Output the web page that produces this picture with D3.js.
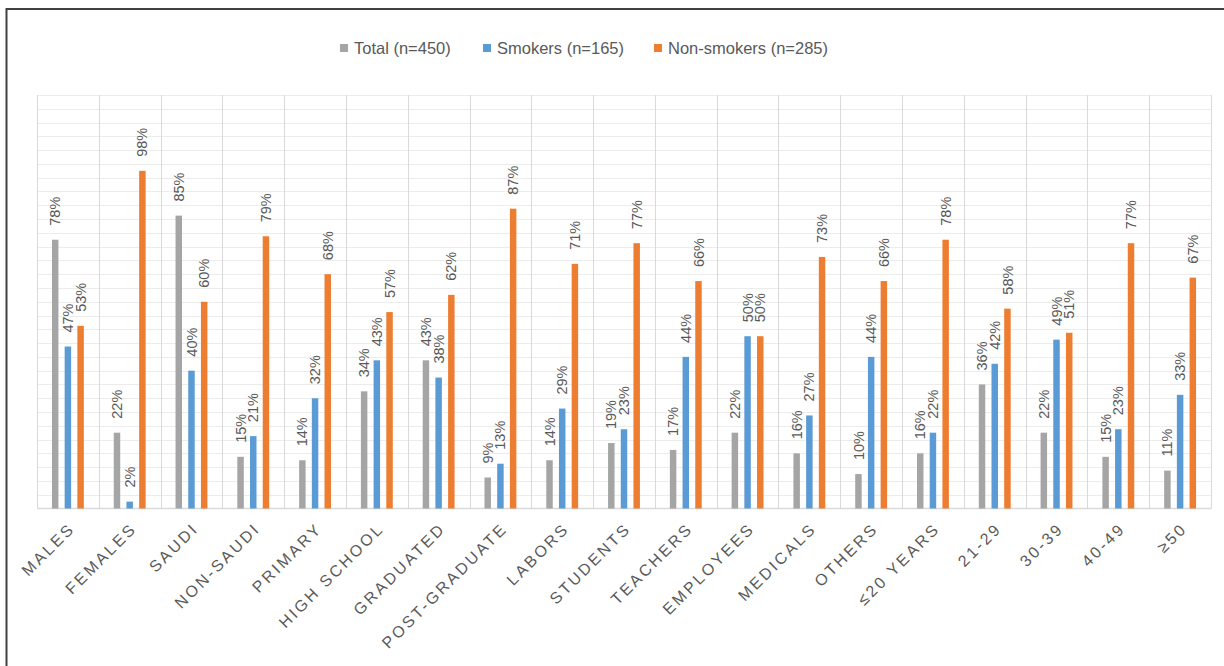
<!DOCTYPE html>
<html>
<head>
<meta charset="utf-8">
<script src="https://cdn.jsdelivr.net/npm/d3@7"></script>
<style>
  html, body { margin: 0; padding: 0; background: #fff; }
  svg { display: block; }
  text { font-family: "Liberation Sans", Arial, sans-serif; }
</style>
</head>
<body>
<svg id="chart" width="1224" height="666"></svg>
<script>
// Smoking status by demographic group (percent of each group)
const categories = ["MALES", "FEMALES", "SAUDI", "NON-SAUDI", "PRIMARY", "HIGH SCHOOL",
  "GRADUATED", "POST-GRADUATE", "LABORS", "STUDENTS", "TEACHERS", "EMPLOYEES",
  "MEDICALS", "OTHERS", "≤20 YEARS", "21-29", "30-39", "40-49", "≥50"];
const seriesNames = ["Total (n=450)", "Smokers (n=165)", "Non-smokers (n=285)"];
const totalValues     = [78, 22, 85, 15, 14, 34, 43,  9, 14, 19, 17, 22, 16, 10, 16, 36, 22, 15, 11];
const smokerValues    = [47,  2, 40, 21, 32, 43, 38, 13, 29, 23, 44, 50, 27, 44, 22, 42, 49, 23, 33];
const nonSmokerValues = [53, 98, 60, 79, 68, 57, 62, 87, 71, 77, 66, 50, 73, 66, 78, 58, 51, 77, 67];
const seriesColors = ["#a5a5a5", "#5b9bd5", "#ed7d31"];

const seriesValues = [totalValues, smokerValues, nonSmokerValues];
const rows = categories.map((c, i) => ({
  category: c,
  values: seriesNames.map((s, k) => ({ series: s, k, value: seriesValues[k][i] }))
}));

const svg = d3.select("#chart");
const textColor = "#595959";

// outer frame (left and top edges)
svg.append("path")
  .attr("d", "M6.5,666 L6.5,9 L1224,9")
  .attr("fill", "none").attr("stroke", "#404040").attr("stroke-width", 2);

const plot = { left: 37, right: 1211, top: 95, bottom: 508.5 };

const x0 = d3.scaleBand().domain(categories).range([plot.left, plot.right]).padding(0);
const x1 = d3.scaleBand().domain(seriesNames).range([-19.05, 19.05])
  .paddingInner(0.49).paddingOuter(0.245);
const y = d3.scaleLinear().domain([0, 120]).range([plot.bottom, plot.top]);

// horizontal gridlines every 4%
const gridTicks = d3.range(4, 121, 4);
svg.append("g").selectAll("line").data(gridTicks).join("line")
  .attr("x1", plot.left).attr("x2", plot.right)
  .attr("y1", d => Math.round(y(d)) + 0.5).attr("y2", d => Math.round(y(d)) + 0.5)
  .attr("stroke", "#ececec").attr("stroke-width", 1);

// category separators
const seps = categories.map(c => x0(c)).concat([plot.right]);
svg.append("g").selectAll("line").data(seps).join("line")
  .attr("x1", d => Math.round(d) + 0.5).attr("x2", d => Math.round(d) + 0.5)
  .attr("y1", plot.top).attr("y2", plot.bottom)
  .attr("stroke", "#d9d9d9").attr("stroke-width", 1);

// baseline
svg.append("line")
  .attr("x1", plot.left).attr("x2", plot.right)
  .attr("y1", plot.bottom).attr("y2", plot.bottom)
  .attr("stroke", "#d9d9d9").attr("stroke-width", 1.5);

// bars
const groups = svg.append("g").selectAll("g").data(rows).join("g")
  .attr("transform", d => `translate(${x0(d.category) + x0.bandwidth() / 2},0)`);

groups.selectAll("rect").data(d => d.values).join("rect")
  .attr("x", d => x1(d.series))
  .attr("width", x1.bandwidth())
  .attr("y", d => y(d.value))
  .attr("height", d => y(0) - y(d.value))
  .attr("fill", d => seriesColors[d.k]);

// value labels, rotated
groups.selectAll("text.val").data(d => d.values).join("text")
  .attr("class", "val")
  .attr("transform", d => `translate(${x1(d.series) + x1.bandwidth() / 2},${y(d.value) - 14}) rotate(-90)`)
  .attr("dy", "0.35em")
  .attr("text-anchor", "start")
  .attr("font-size", 14.5)
  .attr("fill", textColor)
  .text(d => d.value + "%");

// category axis labels
svg.append("g").selectAll("text").data(categories).join("text")
  .attr("transform", d => `translate(${x0(d) + x0.bandwidth() / 2 + 8},${plot.bottom + 21}) rotate(-45)`)
  .attr("text-anchor", "end")
  .attr("font-size", 16)
  .attr("letter-spacing", "2.6px")
  .attr("fill", textColor)
  .text(d => d);

// legend
const legendItems = [
  { name: seriesNames[0], color: seriesColors[0], x: 340 },
  { name: seriesNames[1], color: seriesColors[1], x: 483 },
  { name: seriesNames[2], color: seriesColors[2], x: 654 }
];
const legend = svg.append("g").selectAll("g").data(legendItems).join("g")
  .attr("transform", d => `translate(${d.x},48)`);
legend.append("rect")
  .attr("x", 0).attr("y", -4).attr("width", 8).attr("height", 8)
  .attr("fill", d => d.color);
legend.append("text")
  .attr("x", 14).attr("dy", "0.35em")
  .attr("font-size", 16.5)
  .attr("fill", textColor)
  .text(d => d.name);
</script>
</body>
</html>
